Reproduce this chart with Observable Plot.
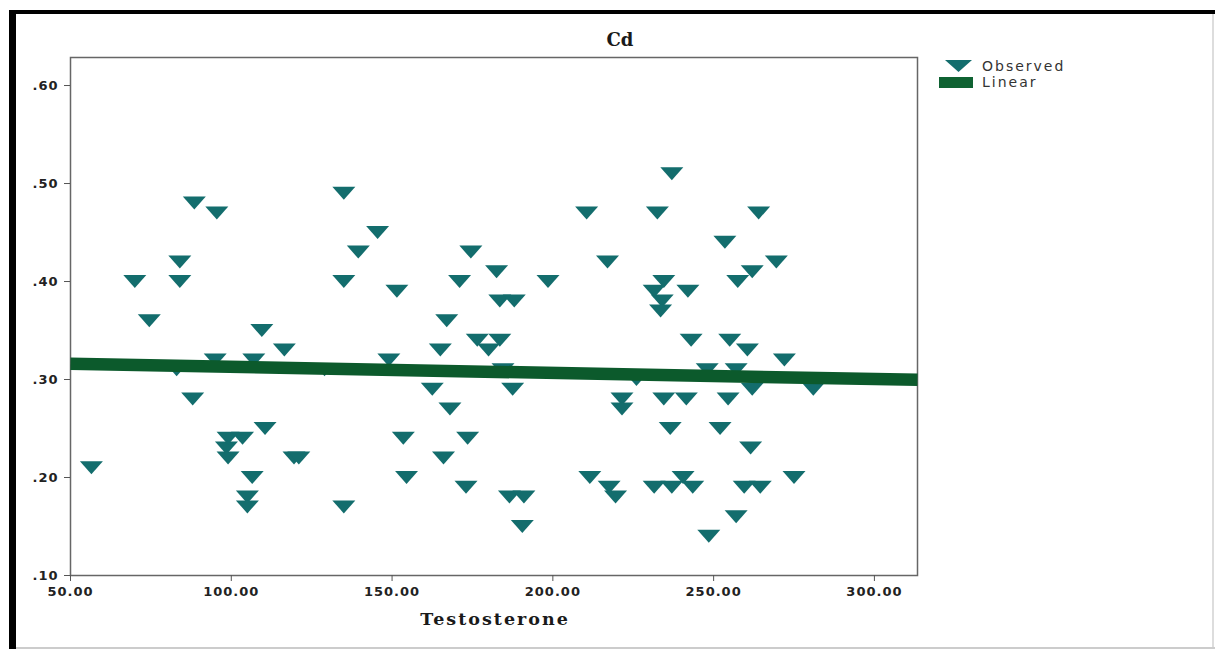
<!DOCTYPE html>
<html>
<head>
<meta charset="utf-8">
<script src="https://cdn.jsdelivr.net/npm/d3@7"></script>
<script src="https://cdn.jsdelivr.net/npm/@observablehq/plot@0.6"></script>
<style>
  html, body { margin: 0; padding: 0; background: #fff; }
  #wrap { position: relative; width: 1215px; height: 649px; overflow: hidden; background: #fff; }
  #outer { position: absolute; left: 9px; top: 10px; width: 1210px; height: 650px;
           border-top: 4px solid #000; border-left: 7px solid #000; box-sizing: border-box; }
  #rightline { position: absolute; left: 1212px; top: 14px; width: 2px; height: 635px; background: #ddd; }
  #bottomline { position: absolute; left: 16px; top: 647px; width: 1199px; height: 2px; background: #ccc; }
  #chart { position: absolute; left: 0; top: 0; }
  #title { position: absolute; left: 560px; width: 120px; top: 29px; text-align: center;
           font-family: "DejaVu Serif", "Liberation Serif", serif; font-weight: bold; font-size: 18px; color: #1a1a1a; }
  #xlabel { position: absolute; left: 370px; width: 250px; top: 609px; text-align: center;
            font-family: "DejaVu Serif", "Liberation Serif", serif; font-weight: bold; font-size: 17.5px;
            letter-spacing: 2px; color: #1a1a1a; }
  #legend { position: absolute; left: 937px; top: 58px; font-family: "DejaVu Sans", sans-serif;
            font-size: 14px; letter-spacing: 2px; color: #333; }
  .lg { position: relative; height: 16px; line-height: 16px; }
  .lg svg { position: absolute; left: 0; top: 0; }
  .lg span { position: absolute; left: 45px; top: 0; }
</style>
</head>
<body>
<div id="wrap">
  <div id="outer"></div>
  <div id="rightline"></div>
  <div id="bottomline"></div>
  <div id="chart"></div>
  <div id="title">Cd</div>
  <div id="xlabel">Testosterone</div>
  <div id="legend">
    <div class="lg"><svg width="40" height="16"><path d="M8,2 L35,2 L21.5,14 Z" fill="#136d6d"/></svg><span>Observed</span></div>
    <div class="lg"><svg width="40" height="16"><rect x="2" y="3" width="34" height="11" fill="#0f6232"/></svg><span>Linear</span></div>
  </div>
</div>
<script>
// Testosterone (x) values
const testosterone = [
  56.5, 70, 74.5, 84, 84, 83, 88.5, 95.5, 95, 88, 98.5, 99, 99, 103.5, 106.5, 105, 105, 107, 109.5, 110.5, 116.5, 119.5, 121,
  129, 135, 145.5, 139.5, 174.5, 182.5, 135, 171, 151.5, 183.5, 188, 167, 176.5, 183.5, 180, 165, 149, 184.5, 187.5, 162.5, 168, 153.5, 173.5, 166, 154.5, 173, 186.5, 191, 135, 190.5,
  237, 210.5, 232.5, 264, 253.5, 217, 269.5, 262, 257.5, 198.5, 234.5, 231.5, 242, 234, 233.5, 243, 255, 260.5, 272, 248, 257, 262, 226, 221.5, 221.5, 234.5, 241.5, 254.5, 236.5, 252, 261.5, 211.5, 217.5, 219.5, 231.5, 237, 243.5, 240.5, 259.5, 264.5, 257, 248.5,
  281, 275
];
// Cd (y) values
const cd = [
  0.21, 0.40, 0.36, 0.42, 0.40, 0.31, 0.48, 0.47, 0.32, 0.28, 0.23, 0.22, 0.24, 0.24, 0.20, 0.18, 0.17, 0.32, 0.35, 0.25, 0.33, 0.22, 0.22,
  0.31, 0.49, 0.45, 0.43, 0.43, 0.41, 0.40, 0.40, 0.39, 0.38, 0.38, 0.36, 0.34, 0.34, 0.33, 0.33, 0.32, 0.31, 0.29, 0.29, 0.27, 0.24, 0.24, 0.22, 0.20, 0.19, 0.18, 0.18, 0.17, 0.15,
  0.51, 0.47, 0.47, 0.47, 0.44, 0.42, 0.42, 0.41, 0.40, 0.40, 0.40, 0.39, 0.39, 0.38, 0.37, 0.34, 0.34, 0.33, 0.32, 0.31, 0.31, 0.29, 0.30, 0.28, 0.27, 0.28, 0.28, 0.28, 0.25, 0.25, 0.23, 0.20, 0.19, 0.18, 0.19, 0.19, 0.19, 0.20, 0.19, 0.19, 0.16, 0.14,
  0.29, 0.20
];
// Linear fit
const fitIntercept = 0.3191;
const fitSlope = -0.0000621;
const xDomain = [50, 313.4];
const yDomain = [0.10, 0.6286];
const xTicks = [50, 100, 150, 200, 250, 300];
const yTicks = [0.10, 0.20, 0.30, 0.40, 0.50, 0.60];

const points = testosterone.map((x, i) => ({x, y: cd[i]}));
const fit = xDomain.map(x => ({x, y: fitIntercept + fitSlope * x}));

const triangleDown = {
  draw(context, size) {
    context.moveTo(-11.5, -6.5);
    context.lineTo(11.5, -6.5);
    context.lineTo(0, 6.5);
    context.closePath();
  }
};

const yFmt = d => d3.format(".2f")(d).replace(/^0/, "");

const plot = Plot.plot({
  width: 930,
  height: 649,
  marginLeft: 70,
  marginRight: 13,
  marginTop: 57,
  marginBottom: 74,
  style: {
    fontFamily: "DejaVu Sans, sans-serif",
    fontWeight: "bold",
    letterSpacing: "1px",
    color: "#222",
    background: "transparent"
  },
  x: { domain: xDomain, label: null },
  y: { domain: yDomain, label: null },
  marks: [
    Plot.frame({ stroke: "#666", strokeWidth: 1.5 }),
    Plot.dot(points, { x: "x", y: "y", symbol: triangleDown, fill: "#136d6d", stroke: "none" }),
    Plot.line(fit, { x: "x", y: "y", stroke: "#0c5a2c", strokeWidth: 12.5, strokeLinecap: "butt" }),
    Plot.axisX({ ticks: xTicks, tickFormat: d3.format(".2f"), tickSize: 6, tickPadding: 5, stroke: "#555", fill: "#222", fontSize: 13, label: null }),
    Plot.axisY({ ticks: yTicks, tickFormat: yFmt, tickSize: 6, tickPadding: 6, stroke: "#555", fill: "#222", fontSize: 13, label: null })
  ]
});
document.getElementById("chart").appendChild(plot);
</script>
</body>
</html>
